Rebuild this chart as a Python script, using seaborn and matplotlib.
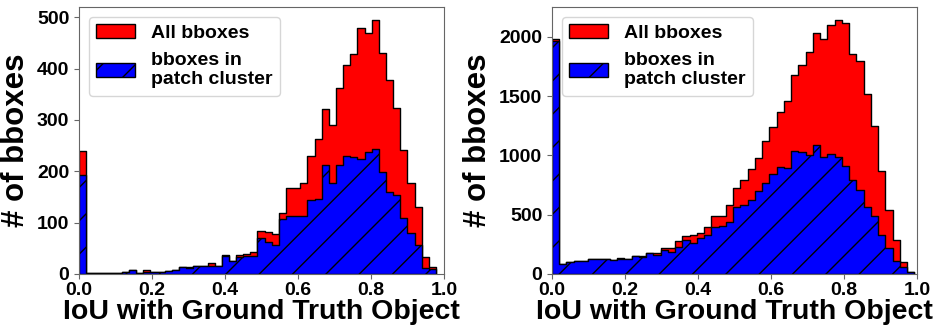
import numpy as np
import pandas as pd
import seaborn as sns
import matplotlib.pyplot as plt

plt.rcParams['font.family'] = ['Liberation Sans', 'DejaVu Sans']
plt.rcParams['font.weight'] = 'bold'
plt.rcParams['hatch.linewidth'] = 1.0
plt.rcParams['axes.edgecolor'] = '0.4'

# ---------------- data (bin counts) ----------------
# left panel: 50 equal bins spanning 0 .. left_max
left_max = 0.978
left_all = [240, 1, 2, 2, 1, 2, 3, 8, 2, 8, 4, 4, 6, 8, 14, 14, 16, 16, 21, 16,
            37, 26, 37, 39, 43, 84, 81, 78, 118, 167, 168, 178, 230, 263, 322, 290,
            362, 407, 428, 478, 470, 495, 430, 378, 323, 242, 177, 131, 34, 14]
left_patch = [192, 1, 2, 2, 1, 1, 3, 8, 2, 4, 4, 4, 6, 8, 13, 11, 16, 16, 16, 16,
              36, 25, 33, 35, 35, 70, 62, 57, 108, 112, 112, 113, 145, 146, 213, 177,
              213, 229, 227, 224, 237, 243, 198, 159, 154, 109, 79, 57, 12, 9]

# right panel: 50 equal bins spanning 0 .. right_max
right_max = 0.9926
right_all = [1981, 84, 98, 107, 112, 129, 129, 129, 118, 138, 124, 152, 154, 180, 180,
             216, 216, 278, 320, 329, 343, 399, 489, 489, 579, 722, 795, 885, 975, 1120,
             1242, 1368, 1456, 1677, 1766, 1875, 2030, 1982, 2103, 2144, 2118, 1855,
             1797, 1515, 1250, 865, 539, 290, 104, 20]
right_patch = [1967, 84, 98, 107, 112, 129, 129, 127, 118, 126, 124, 150, 146, 180, 163,
               202, 183, 230, 287, 258, 306, 329, 399, 404, 441, 567, 581, 624, 700, 764,
               840, 904, 890, 1039, 1031, 1003, 1084, 985, 1011, 989, 907, 792, 705, 567,
               486, 329, 220, 108, 59, 15]

labels = ['All bboxes', 'bboxes in\npatch cluster']
x_label = 'IoU with Ground Truth Object'
y_label = '# of bboxes'
x_ticks = [0.0, 0.2, 0.4, 0.6, 0.8, 1.0]
left_yticks = [0, 100, 200, 300, 400, 500]
right_yticks = [0, 500, 1000, 1500, 2000]

W, H = 937, 328
fig = plt.figure(figsize=(W / 100, H / 100), dpi=100)
ax_l = fig.add_axes([79 / W, 54 / H, 365 / W, 267 / H])
ax_r = fig.add_axes([552 / W, 54 / H, 365 / W, 267 / H])


def draw(ax, vmax, all_counts, patch_counts, yticks):
    edges = np.linspace(0, vmax, len(all_counts) + 1)
    centers = (edges[:-1] + edges[1:]) / 2
    df = pd.DataFrame({'iou': centers, 'all': all_counts, 'patch': patch_counts})
    sns.histplot(data=df, x='iou', weights='all', bins=edges.tolist(), element='step',
                 fill=True, color='#ff0000', edgecolor='black', linewidth=1.0,
                 alpha=1, ax=ax)
    sns.histplot(data=df, x='iou', weights='patch', bins=edges.tolist(), element='step',
                 fill=True, color='#0000ff', edgecolor='black', linewidth=1.0,
                 alpha=1, hatch='/', ax=ax)
    ax.set_xlim(0, 1)
    ax.set_ylim(0, max(all_counts) * 1.05)
    ax.set_xticks(x_ticks)
    ax.set_xticklabels([f'{t:.1f}' for t in x_ticks])
    ax.set_yticks(yticks)
    ax.tick_params(labelsize=14, color='0.4', labelcolor='black')
    ax.tick_params(axis='x', pad=2.5)
    for t in ax.get_xticklabels() + ax.get_yticklabels():
        t.set_fontweight('bold')
    ax.set_xlabel(x_label, fontsize=20.5, fontweight='bold', labelpad=0)
    ax.set_ylabel(y_label, fontsize=22.5, fontweight='bold', labelpad=4)
    handles = ax.collections[:2]
    ax.legend(handles, labels, loc='upper left',
              prop={'weight': 'bold', 'size': 14})


draw(ax_l, left_max, left_all, left_patch, left_yticks)
draw(ax_r, right_max, right_all, right_patch, right_yticks)

fig.savefig('out.png', dpi=100)
